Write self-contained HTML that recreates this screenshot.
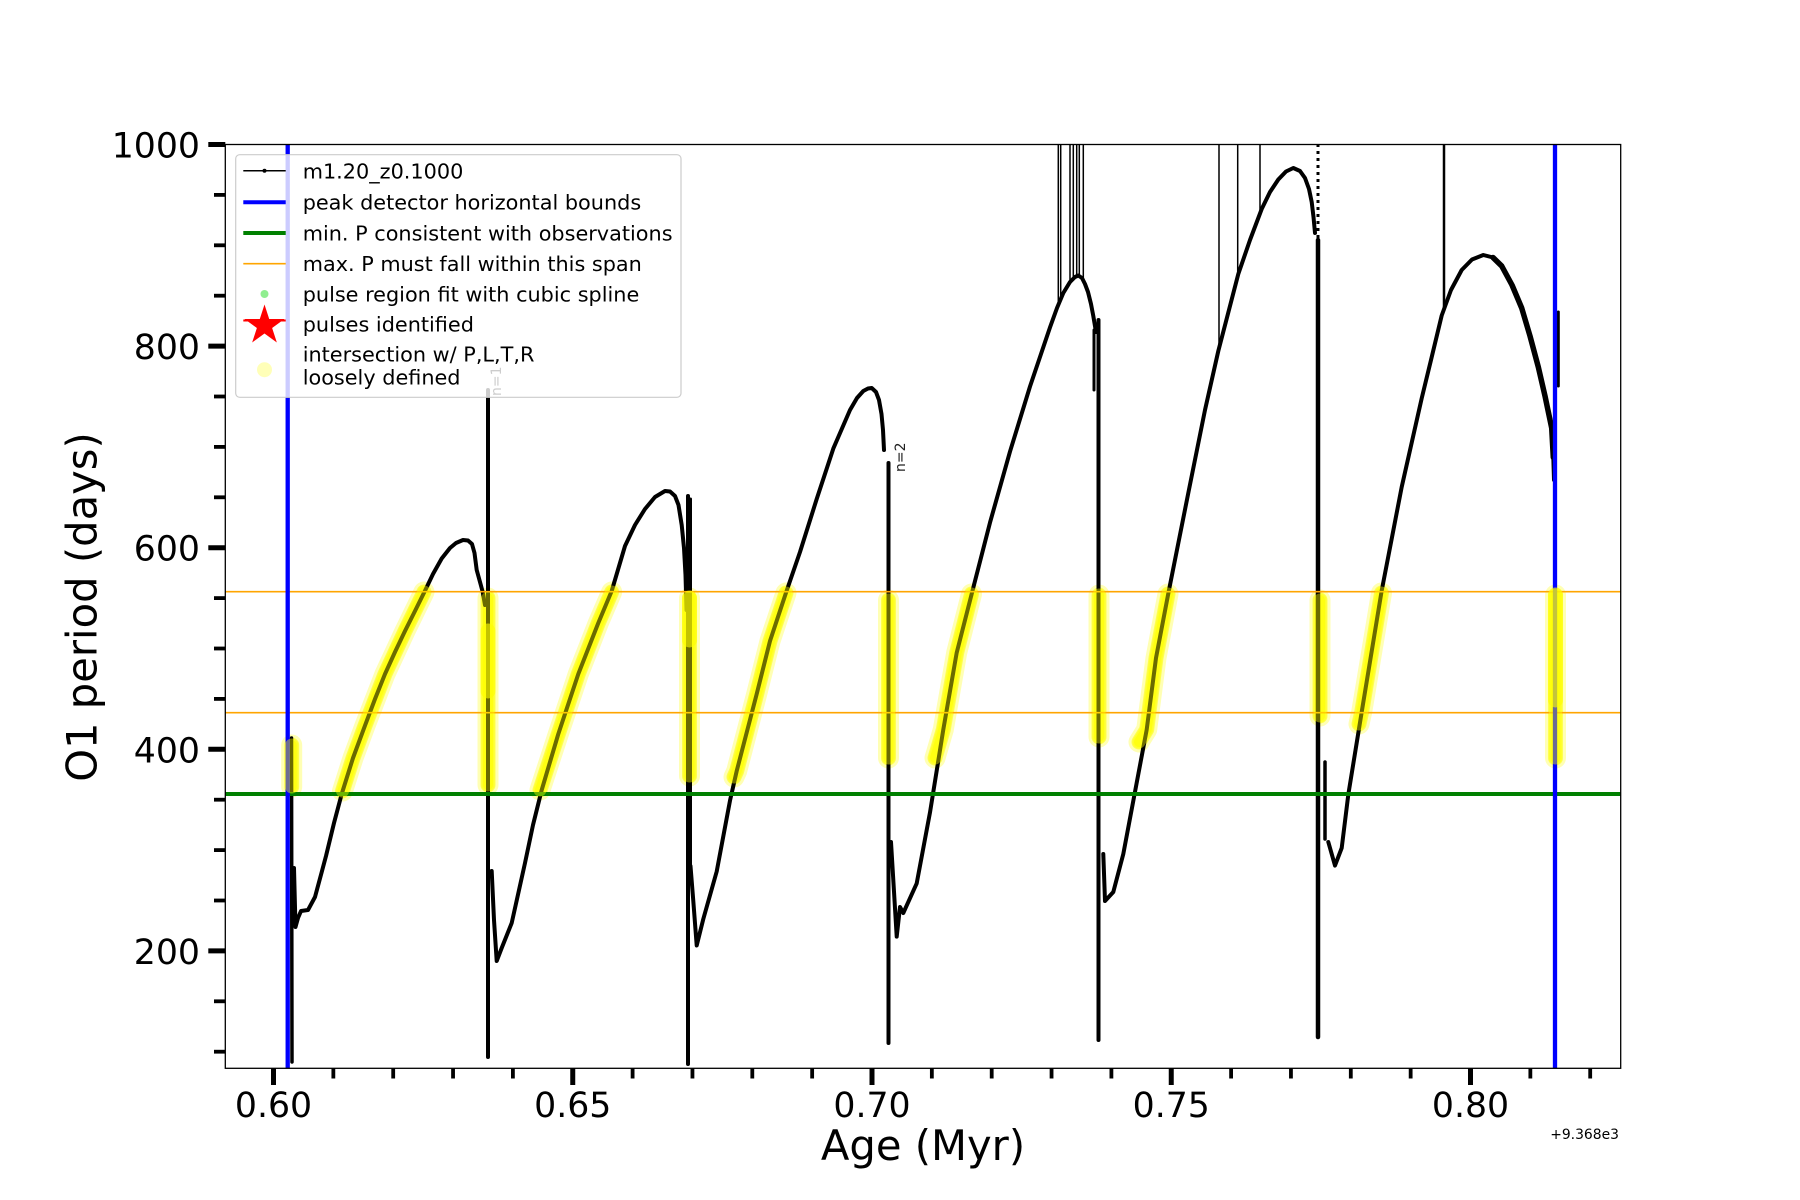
<!DOCTYPE html>
<html>
<head>
<meta charset="utf-8">
<style>
html,body{margin:0;padding:0;background:#fff;}
svg{display:block;font-family:"DejaVu Sans","Liberation Sans",sans-serif;}
</style>
</head>
<body>
<svg width="1800" height="1200" viewBox="0 0 1800 1200" xmlns="http://www.w3.org/2000/svg">
<rect x="0" y="0" width="1800" height="1200" fill="#fff"/>
<defs>
<clipPath id="ax"><rect x="225.3" y="144.5" width="1395.4" height="923.8"/></clipPath>
<g id="bands">
<path d="M342.5,791 L353,758 L365,725.6 L385,674 L405,631 L424,592"/>
<path d="M540,790 L558.3,734 L578.3,674 L598.3,623 L611.7,592"/>
<path d="M734,777 L736.7,771 L756.7,694 L770,641 L786,593"/>
<path d="M935,758 L943.3,729.6 L956.7,652.7 L971.5,594"/>
<path d="M1139,742 L1146.7,729.6 L1156,658 L1168,594"/>
<path d="M1359,724 L1361.7,712 L1381.5,593"/>
<path d="M291.7,745 L291.7,787"/>
<path d="M488,598 L488,785"/>
<path d="M689.5,598 L689.5,776"/>
<path d="M888.5,600 L888.5,758"/>
<path d="M1099,595 L1099,737"/>
<path d="M1320,600 L1320,716"/>
<path d="M1555.5,595 L1555.5,758"/>
</g>
</defs>

<g clip-path="url(#ax)">
<!-- yellow base bands (under curve) -->
<g fill="none" stroke="#ffffb4" stroke-width="21" stroke-linecap="round" stroke-linejoin="round">
<use href="#bands"/>
</g>
<g fill="none" stroke="#ffff50" stroke-width="15" stroke-linecap="round" stroke-linejoin="round">
<use href="#bands"/>
</g>
<g fill="none" stroke="#ffff20" stroke-width="10" stroke-linecap="round" stroke-linejoin="round">
<use href="#bands"/>
</g>

<!-- black curve -->
<g fill="none" stroke="#000" stroke-width="4" stroke-linecap="round" stroke-linejoin="round">
<path d="M291.5,738 L292,1062" stroke-width="3.5"/>
<path d="M294,868 L295.5,927 L298,918 L301,911 L308,910 L315,897 L322,871 L326,856 L334,823 L341.7,794 L353,758 L365,725.6 L375,699 L385,674 L395,652 L405,631 L415,611 L425,590.7 L433,574 L441.7,558.5 L450,548 L456,543 L463,540 L468,540.5 L472,544 L474.5,553 L476.7,570 L480,582 L482.7,592 L485,605"/>
<path d="M488,390 L488,1057"/>

<path d="M491.7,871 L494,920 L496.7,961 L501.7,948 L511.7,923 L525,863 L533,825 L541.7,790 L558.3,734 L578.3,674 L598.3,623 L611.7,591 L625,546 L635,525 L645,509 L655,497 L665,491 L670,491.5 L675,496 L678.5,505 L681.7,525 L684,548 L685.5,575 L686.5,610"/>
<path d="M688,496 L688,1064"/>
<path d="M690.5,499 L690.5,866" stroke-width="3"/>

<path d="M690.5,866 L693.3,901 L696.7,945.5 L703.3,919 L716.7,871.5 L730,800.6 L736.7,771 L756.7,694 L770,641 L786.7,590.6 L800,552 L816.7,499 L833.3,448.6 L850,410 L857,398 L863.3,391 L868,388.5 L871.7,388 L876,392 L879,400 L881.5,414 L883,430 L884,450"/>
<path d="M888.5,463 L888.5,1043"/>

<path d="M891,842 L893.3,880 L896.7,936.6 L900,907 L903.3,913 L916.7,883.4 L930,812.4 L943.3,729.6 L956.7,652.7 L973.3,587.6 L990,522.6 L1010,451.6 L1030,386.5 L1050,327.4 L1057,308 L1063.3,293 L1070,282 L1075,277 L1078.3,275.5 L1082,278 L1085,284 L1088,292 L1091,304 L1093.3,316 L1096,332"/>
<path d="M1098.5,320 L1098.5,1040"/>
<path d="M1094,330 L1094,390" stroke-width="3"/>

<path d="M1103.3,854 L1105,901 L1113.3,892 L1123.3,854 L1136.7,782.8 L1146.7,729.6 L1156,658 L1168.3,593.5 L1188.3,493 L1205,410 L1218.3,351 L1238.3,274 L1250,240 L1261.7,209 L1270,192 L1278.3,179.5 L1286,171.5 L1293.3,168 L1300,171 L1305,178 L1309,189 L1311.7,202 L1313.5,217 L1315,233"/>
<path d="M1318,144 L1318,240" stroke-width="3" stroke-dasharray="3,4" stroke-linecap="butt"/>
<path d="M1318,240 L1318,1037" stroke-width="4.5"/>

<path d="M1325,762 L1325,839" stroke-width="3.5"/>
<path d="M1328.3,842 L1335,865.6 L1341.7,848 L1348.3,794.6 L1361.7,712 L1381.7,590.6 L1401.7,487 L1421.7,398.3 L1431,360 L1441.7,315.5 L1451,290 L1461.7,270 L1472,259.5 L1483.3,255 L1493,257.5 L1501.7,266 L1512,285 L1521.7,308 L1530,336 L1538.3,367 L1545,396 L1551.7,428 L1553.3,457.5 L1554,480"/>
<path d="M1493,257.5 L1501.7,266 L1512,285 L1521.7,308 L1530,336 L1538.3,367 L1545,396 L1551.7,428 L1553.3,457.5" stroke-width="5.5"/>
<path d="M1555,457 L1555,1037" stroke-width="3"/>
<path d="M1558.3,312 L1558.3,386" stroke-width="3"/>
</g>

<!-- top spike lines -->
<g stroke="#000" stroke-width="1.5" fill="none">
<line x1="1058.3" y1="140" x2="1058.3" y2="306"/>
<line x1="1060.7" y1="140" x2="1060.7" y2="299"/>
<line x1="1070" y1="140" x2="1070" y2="283"/>
<line x1="1073.3" y1="140" x2="1073.3" y2="279"/>
<line x1="1076.7" y1="140" x2="1076.7" y2="277"/>
<line x1="1079.3" y1="140" x2="1079.3" y2="276"/>
<line x1="1083.3" y1="140" x2="1083.3" y2="281"/>
<line x1="1219" y1="140" x2="1219" y2="351"/>
<line x1="1237.7" y1="140" x2="1237.7" y2="276"/>
<line x1="1260" y1="140" x2="1260" y2="213"/>
<line x1="1444" y1="140" x2="1444" y2="310" stroke-width="2.5"/>
</g>

<!-- horizontal reference lines -->
<line x1="225" y1="591.7" x2="1621" y2="591.7" stroke="#ffa500" stroke-width="1.6"/>
<line x1="225" y1="712.7" x2="1621" y2="712.7" stroke="#ffa500" stroke-width="1.6"/>
<line x1="225" y1="794" x2="1621" y2="794" stroke="#008000" stroke-width="4"/>

<!-- blue vertical bounds -->
<line x1="287.7" y1="144" x2="287.7" y2="1069" stroke="#0000ff" stroke-width="4.3"/>
<line x1="1555" y1="144" x2="1555" y2="1069" stroke="#0000ff" stroke-width="4.3"/>

<!-- yellow overlay (over curve) -->
<g fill="none" stroke="#ffff00" stroke-opacity="0.42" stroke-width="13" stroke-linecap="round" stroke-linejoin="round">
<use href="#bands"/>
</g>
<g fill="none" stroke="#ffff00" stroke-opacity="0.6" stroke-width="15" stroke-linecap="round">
<path d="M488,631 L488,691"/>
<path d="M689.5,598 L689.5,640"/>
<path d="M1555.5,595 L1555.5,700"/>
</g>

<!-- annotations -->
<text transform="translate(501,396) rotate(-90)" font-size="14" fill="#000">n=1</text>
<text transform="translate(905,472) rotate(-90)" font-size="14" fill="#222">n=2</text>
</g>

<!-- axes frame -->
<rect x="225.3" y="144.5" width="1395.4" height="923.8" fill="none" stroke="#000" stroke-width="1.3"/>

<!-- y ticks -->
<g stroke="#000" stroke-width="5">
<line x1="208.3" y1="144.5" x2="225.3" y2="144.5"/>
<line x1="208.3" y1="346.1" x2="225.3" y2="346.1"/>
<line x1="208.3" y1="547.7" x2="225.3" y2="547.7"/>
<line x1="208.3" y1="749.3" x2="225.3" y2="749.3"/>
<line x1="208.3" y1="950.9" x2="225.3" y2="950.9"/>
</g>
<g stroke="#000" stroke-width="3.8">
<line x1="214" y1="194.9" x2="225.3" y2="194.9"/>
<line x1="214" y1="245.3" x2="225.3" y2="245.3"/>
<line x1="214" y1="295.7" x2="225.3" y2="295.7"/>
<line x1="214" y1="396.5" x2="225.3" y2="396.5"/>
<line x1="214" y1="446.9" x2="225.3" y2="446.9"/>
<line x1="214" y1="497.3" x2="225.3" y2="497.3"/>
<line x1="214" y1="598.1" x2="225.3" y2="598.1"/>
<line x1="214" y1="648.5" x2="225.3" y2="648.5"/>
<line x1="214" y1="698.9" x2="225.3" y2="698.9"/>
<line x1="214" y1="799.7" x2="225.3" y2="799.7"/>
<line x1="214" y1="850.1" x2="225.3" y2="850.1"/>
<line x1="214" y1="900.5" x2="225.3" y2="900.5"/>
<line x1="214" y1="1001.3" x2="225.3" y2="1001.3"/>
<line x1="214" y1="1051.7" x2="225.3" y2="1051.7"/>
</g>

<!-- x ticks -->
<g stroke="#000" stroke-width="5">
<line x1="273.5" y1="1068.3" x2="273.5" y2="1085"/>
<line x1="572.75" y1="1068.3" x2="572.75" y2="1085"/>
<line x1="872" y1="1068.3" x2="872" y2="1085"/>
<line x1="1171.25" y1="1068.3" x2="1171.25" y2="1085"/>
<line x1="1470.5" y1="1068.3" x2="1470.5" y2="1085"/>
</g>
<g stroke="#000" stroke-width="3.8">
<line x1="333.35" y1="1068.3" x2="333.35" y2="1078.5"/>
<line x1="393.2" y1="1068.3" x2="393.2" y2="1078.5"/>
<line x1="453.05" y1="1068.3" x2="453.05" y2="1078.5"/>
<line x1="512.9" y1="1068.3" x2="512.9" y2="1078.5"/>
<line x1="632.6" y1="1068.3" x2="632.6" y2="1078.5"/>
<line x1="692.45" y1="1068.3" x2="692.45" y2="1078.5"/>
<line x1="752.3" y1="1068.3" x2="752.3" y2="1078.5"/>
<line x1="812.15" y1="1068.3" x2="812.15" y2="1078.5"/>
<line x1="931.85" y1="1068.3" x2="931.85" y2="1078.5"/>
<line x1="991.7" y1="1068.3" x2="991.7" y2="1078.5"/>
<line x1="1051.55" y1="1068.3" x2="1051.55" y2="1078.5"/>
<line x1="1111.4" y1="1068.3" x2="1111.4" y2="1078.5"/>
<line x1="1231.1" y1="1068.3" x2="1231.1" y2="1078.5"/>
<line x1="1290.95" y1="1068.3" x2="1290.95" y2="1078.5"/>
<line x1="1350.8" y1="1068.3" x2="1350.8" y2="1078.5"/>
<line x1="1410.65" y1="1068.3" x2="1410.65" y2="1078.5"/>
<line x1="1530.35" y1="1068.3" x2="1530.35" y2="1078.5"/>
<line x1="1590.2" y1="1068.3" x2="1590.2" y2="1078.5"/>
</g>

<!-- tick labels -->
<g font-size="34.7" fill="#000" text-anchor="end">
<text x="200" y="157.5">1000</text>
<text x="200" y="359.1">800</text>
<text x="200" y="560.7">600</text>
<text x="200" y="762.3">400</text>
<text x="200" y="963.9">200</text>
</g>
<g font-size="34.7" fill="#000" text-anchor="middle">
<text x="273.5" y="1117">0.60</text>
<text x="572.75" y="1117">0.65</text>
<text x="872" y="1117">0.70</text>
<text x="1171.25" y="1117">0.75</text>
<text x="1470.5" y="1117">0.80</text>
</g>
<text x="1619" y="1139" font-size="13.9" text-anchor="end" fill="#000">+9.368e3</text>

<!-- axis labels -->
<text x="923" y="1160" font-size="41.7" text-anchor="middle" fill="#000">Age (Myr)</text>
<text transform="translate(96.5,607) rotate(-90)" font-size="41.7" text-anchor="middle" fill="#000">O1 period (days)</text>

<!-- legend -->
<rect x="235.7" y="154.7" width="445.3" height="242.6" rx="4" ry="4" fill="#fff" fill-opacity="0.8" stroke="#cccccc" stroke-width="1.2"/>
<line x1="243.3" y1="170.7" x2="285.7" y2="170.7" stroke="#000" stroke-width="1.5"/>
<circle cx="264.5" cy="170.7" r="2" fill="#000"/>
<line x1="243.3" y1="202.3" x2="285.7" y2="202.3" stroke="#0000ff" stroke-width="4"/>
<line x1="243.3" y1="233" x2="285.7" y2="233" stroke="#008000" stroke-width="4"/>
<line x1="243.3" y1="263.7" x2="285.7" y2="263.7" stroke="#ffa500" stroke-width="1.6"/>
<circle cx="264.5" cy="294" r="4" fill="#90ee90"/>
<line x1="243.3" y1="320.5" x2="285.7" y2="320.5" stroke="#ff0000" stroke-width="2"/>
<polygon points="264.5,304.5 269.21,319.01 284.47,319.01 272.13,327.98 276.84,342.49 264.5,333.52 252.16,342.49 256.87,327.98 244.53,319.01 259.79,319.01" fill="#ff0000"/>
<circle cx="264.5" cy="369.7" r="7.5" fill="#ffffb8"/>
<g font-size="20.8" fill="#000">
<text x="302.7" y="178.7">m1.20_z0.1000</text>
<text x="302.7" y="209.5">peak detector horizontal bounds</text>
<text x="302.7" y="240.3">min. P consistent with observations</text>
<text x="302.7" y="271.1">max. P must fall within this span</text>
<text x="302.7" y="301.3">pulse region fit with cubic spline</text>
<text x="302.7" y="331.3">pulses identified</text>
<text x="302.7" y="361.3">intersection w/ P,L,T,R</text>
<text x="302.7" y="384.5">loosely defined</text>
</g>
</svg>
</body>
</html>
